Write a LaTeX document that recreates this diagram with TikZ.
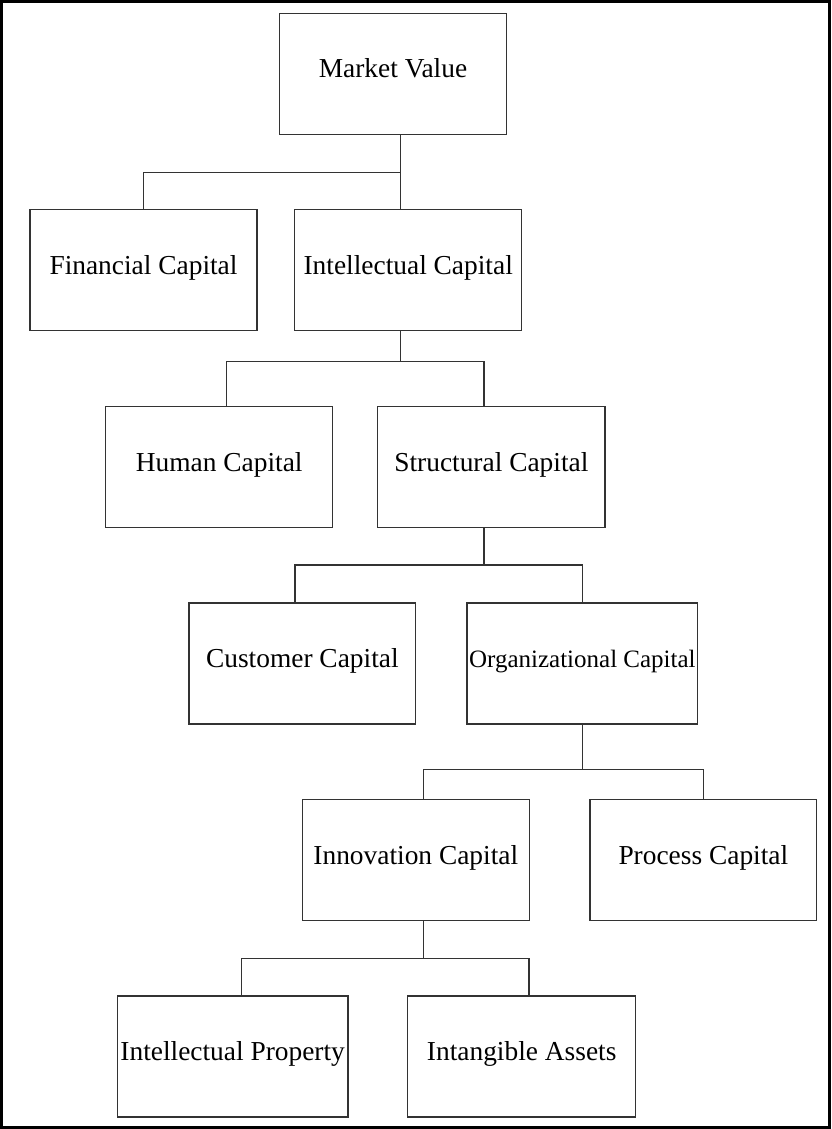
\documentclass[tikz,border=0pt]{standalone}
\usepackage{fontspec}
\setmainfont{Liberation Serif}
\begin{document}
\begin{tikzpicture}[x=1pt,y=-1pt,
  capbox/.style={draw=black!80, line width=1.1pt, rectangle, inner sep=0pt,
    minimum height=121pt, text height=14pt, text depth=6pt, align=center,
    font=\fontsize{27.4}{32}\selectfont},
  link/.style={draw=black!80, line width=1.1pt}]
\useasboundingbox (0,0) rectangle (832,1129);
\fill[white] (0,0) rectangle (832,1129);
\draw[line width=3pt] (1.6,1.3) rectangle (829.4,1127.7);

\node[capbox, minimum width=227.4pt] (mv)  at (393,73.8)    {Market Value};
\node[capbox, minimum width=227pt]   (fin) at (143.5,270.4) {Financial Capital};
\node[capbox, minimum width=227pt]   (int) at (408.2,270.4) {Intellectual Capital};
\node[capbox, minimum width=227pt]   (hum) at (219.2,467)   {Human Capital};
\node[capbox, minimum width=227.3pt] (str) at (491.35,467)  {Structural Capital};
\node[capbox, minimum width=226.7pt] (cus) at (302.35,663.5) {Customer Capital};
\node[capbox, minimum width=230.7pt, font=\fontsize{25}{30}\selectfont] (org) at (582.35,663.5) {Organizational Capital};
\node[capbox, minimum width=227pt]   (inn) at (415.8,860.4) {Innovation Capital};
\node[capbox, minimum width=226.7pt] (pro) at (703.35,860.4) {Process Capital};
\node[capbox, minimum width=230.7pt] (ip)  at (232.65,1056.5) {Intellectual Property};
\node[capbox, minimum width=228pt]   (ia)  at (521.7,1056.5) {Intangible Assets};

\coordinate (j0) at (400.7,172.3);
\coordinate (j1) at (400.7,361.3);
\coordinate (h1) at (226.7,361.3);
\coordinate (j2) at (484,565);
\coordinate (c2) at (295,565);
\coordinate (j3) at (582.3,769.3);
\coordinate (j4) at (423.3,958.3);
\coordinate (p5) at (241.7,958.3);
\coordinate (q5) at (529,958.3);

\draw[link] (mv.south -| j0) -- (int.north -| j0);
\draw[link] (j0) -| (fin.north);
\draw[link] (int.south -| j1) -- (j1);
\draw[link] (hum.north -| h1) |- (j1) -| (str.north -| j2);
\draw[link] (str.south -| j2) -- (j2);
\draw[link] (cus.north -| c2) |- (j2) -| (org.north);
\draw[link] (org.south -| j3) -- (j3);
\draw[link] (inn.north -| j4) |- (j3) -| (pro.north);
\draw[link] (inn.south -| j4) -- (j4);
\draw[link] (ip.north -| p5) |- (j4) -| (ia.north -| q5);
\end{tikzpicture}
\end{document}
